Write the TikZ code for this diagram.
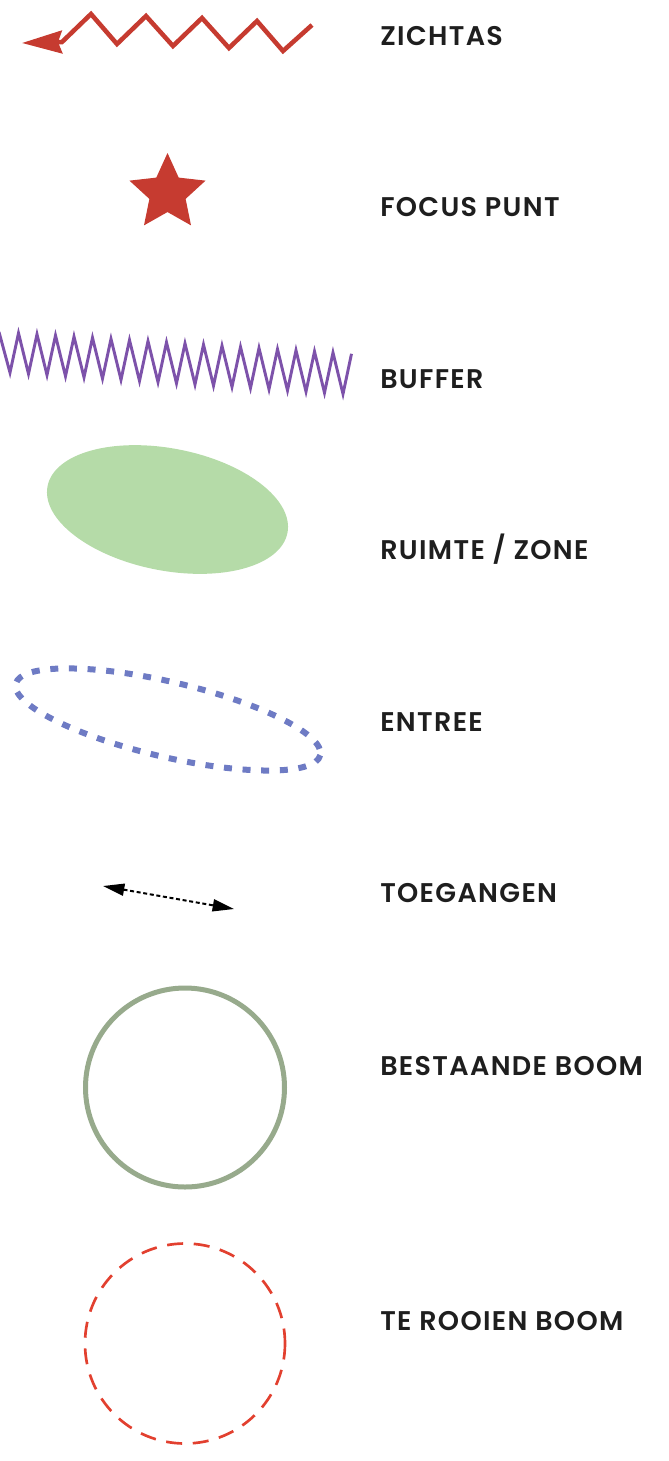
\documentclass[tikz,border=0pt]{standalone}
\usepackage{fontspec}
\setmainfont{Poppins}[BoldFont={* SemiBold}, LetterSpace=5]
\usetikzlibrary{arrows.meta, shapes.geometric}

\definecolor{rood}{HTML}{C63B30}
\definecolor{paars}{HTML}{7D52AA}
\definecolor{groen}{HTML}{B5DBA8}
\definecolor{blauw}{HTML}{6E7BC4}
\definecolor{boomgroen}{HTML}{97AA8C}
\definecolor{rooienrood}{HTML}{E2402F}
\definecolor{tekst}{HTML}{1E1E1E}

\begin{document}
\begin{tikzpicture}[x=0.75pt, y=-0.75pt]
  \tikzstyle{legende}=[anchor=base west, inner sep=0, text=tekst, font=\bfseries\fontsize{20.25}{24}\selectfont];
  \tikzstyle{zichtas}=[draw=rood, line width=3.4pt, -{Stealth[length=30pt, width=17pt, inset=3pt]}];
  \tikzstyle{buffer}=[draw=paars, line width=2.2pt];
  \tikzstyle{entree}=[draw=blauw, line width=4.5pt, dash pattern=on 6pt off 8pt];
  \tikzstyle{toegang}=[draw=black, line width=1.5pt, dash pattern=on 3pt off 2pt, {Triangle[length=16pt, width=9pt]}-{Triangle[length=16pt, width=9pt]}];
  \tikzstyle{boom}=[draw=boomgroen, line width=3.75pt];
  \tikzstyle{rooien}=[draw=rooienrood, line width=2pt, dash pattern=on 12pt off 8pt];

  \useasboundingbox (0,0) rectangle (668,1461);

  \draw[zichtas] (312,25) -- (283,51) -- (257,21) -- (229,48) -- (202,18) -- (173,46)
    -- (146,16) -- (117,44) -- (91,14) -- (62,42) -- (22,43);

  \node[star, star points=5, star point ratio=2.1, minimum size=60pt, inner sep=0, fill=rood] (ster) at (167.5,193) {};

  \draw[buffer] (-1,332) \foreach \i in {0,...,18} {
      -- ({10+18.5*\i},{372+0.064*(10+18.5*\i)}) -- ({18.5*(\i+1)},{332+0.062*18.5*(\i+1)})
    };

  \coordinate (zone) at (167.5,509.5);
  \fill[groen, rotate around={-11:(zone)}] (zone) ellipse [x radius=122.2, y radius=61.1];

  \coordinate (ingang) at (168,719.5);
  \draw[entree, rotate around={-13.2:(ingang)}] (ingang) ellipse [x radius=156.4, y radius=37.5];

  \coordinate (toegangA) at (103,886);
  \coordinate (toegangB) at (234,909);
  \draw[toegang] (toegangA) -- (toegangB);

  \draw[boom] (185,1087.5) circle [radius=99.5];
  \draw[rooien] (185,1343.5) circle [radius=100];

  \node[legende] (lzichtas) at (380,45) {ZICHTAS};
  \node[legende] (lfocus) at (380,216.5) {FOCUS PUNT};
  \node[legende] (lbuffer) at (380,388) {BUFFER};
  \node[legende] (lzone) at (380,559.5) {RUIMTE / ZONE};
  \node[legende] (lentree) at (380,731) {ENTREE};
  \node[legende] (ltoegang) at (380,902.5) {TOEGANGEN};
  \node[legende] (lboom) at (380,1075) {BESTAANDE BOOM};
  \node[legende] (lrooien) at (380,1330) {TE ROOIEN BOOM};
\end{tikzpicture}
\end{document}
